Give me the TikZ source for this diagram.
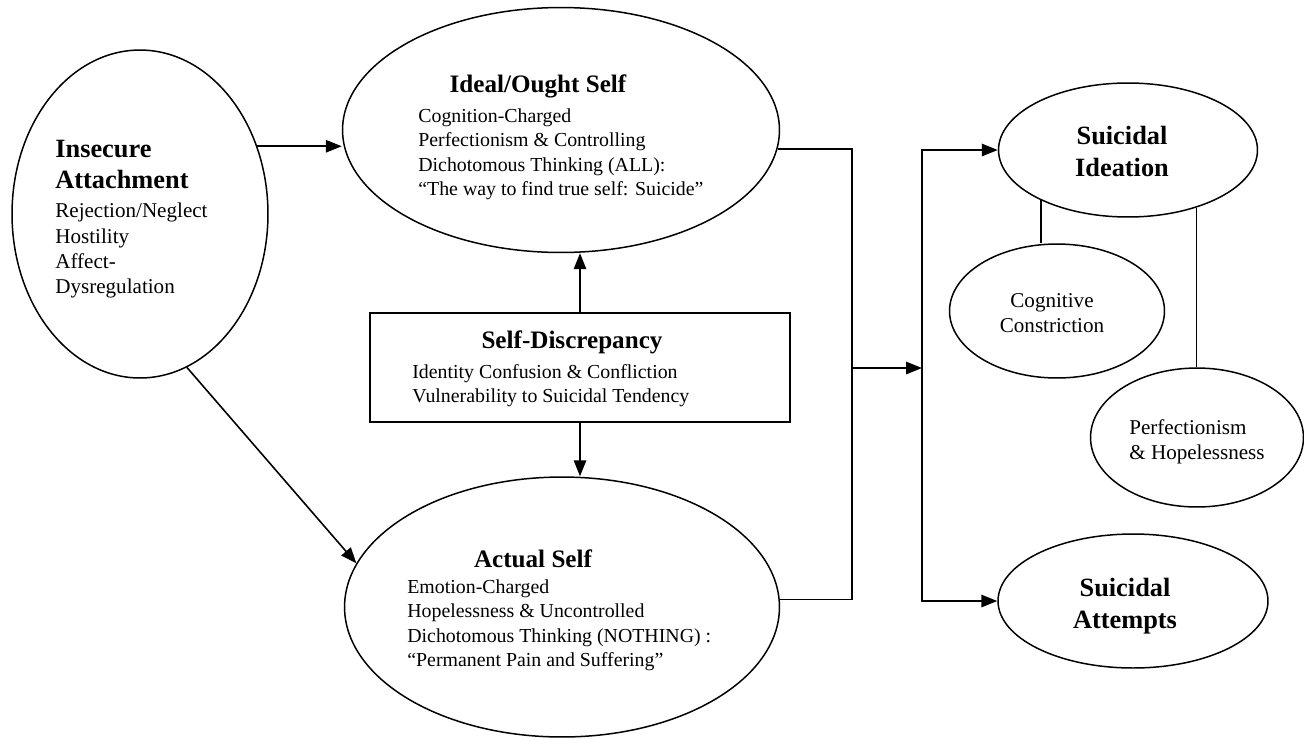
\documentclass[tikz,border=0pt]{standalone}
\usepackage{fontspec}
\setmainfont{Liberation Serif}
\usetikzlibrary{shapes.geometric,arrows.meta}

\newcommand\headfont{\fontsize{14.3}{17.6}\selectfont\bfseries}
\newcommand\bigheadfont{\fontsize{15}{18}\selectfont\bfseries}
\newcommand\bodyfont{\fontsize{11.3}{14}\selectfont}
\newcommand\bigbodyfont{\fontsize{12}{14.4}\selectfont}

\begin{document}
\begin{tikzpicture}[x=0.02cm,y=-0.02cm,
  bubble/.style={draw,ellipse,line width=0.85pt,inner sep=0pt},
  head/.style={font=\headfont,inner sep=0pt},
  bighead/.style={font=\bigheadfont,inner sep=0pt},
  body/.style={font=\bodyfont,inner sep=0pt},
  bigbody/.style={font=\bigbodyfont,inner sep=0pt},
  link/.style={line width=0.9pt},
  arr/.style={line width=0.9pt,-{Triangle[length=9pt,width=7pt]}}]
  \useasboundingbox (0,0) rectangle (1304,738);
  % shapes
  \node[bubble,minimum width=5.12cm,minimum height=6.56cm] (insecure) at (140,214) {};
  \node[bubble,minimum width=8.74cm,minimum height=4.9cm] (ideal) at (561,130) {};
  \node[bubble,minimum width=8.7cm,minimum height=5.2cm] (actual) at (562,607) {};
  \node[draw,line width=0.85pt,minimum width=8.4cm,minimum height=2.18cm] (sd) at (580,367.5) {};
  \node[bubble,minimum width=5.18cm,minimum height=2.68cm] (ideation) at (1128,150) {};
  \node[bubble,minimum width=4.3cm,minimum height=2.68cm] (cognitive) at (1057,311) {};
  \node[bubble,minimum width=4.26cm,minimum height=2.78cm] (perfect) at (1197,437.5) {};
  \node[bubble,minimum width=5.4cm,minimum height=2.68cm] (attempts) at (1133,601) {};
  % texts
  \node[bighead,anchor=north west,align=left] (insecurehead) at (55,139.5) {Insecure\\Attachment};
  \node[bigbody,anchor=north west,align=left] (insecurebody) at (55,203) {Rejection/Neglect\\Hostility\\Affect-\\Dysregulation};
  \node[head,anchor=base] (idealhead) at (538,92) {Ideal/Ought Self};
  \node[body,anchor=north west,align=left] (idealbody) at (418,108) {Cognition-Charged\\Perfectionism \& Controlling\\Dichotomous Thinking (ALL):\\“The way to find true self: Suicide”};
  \node[head,anchor=base] (sdhead) at (572,348) {Self-Discrepancy};
  \node[body,anchor=north west,align=left] (sdbody) at (412,364) {Identity Confusion \& Confliction\\Vulnerability to Suicidal Tendency};
  \node[head,anchor=base] (actualhead) at (533,567) {Actual Self};
  \node[body,anchor=north west,align=left] (actualbody) at (407,579) {Emotion-Charged\\Hopelessness \& Uncontrolled\\Dichotomous Thinking (NOTHING) :\\“Permanent Pain and Suffering”};
  \node[bighead,anchor=north,align=center] (ideationhead) at (1122,126) {Suicidal\\Ideation};
  \node[bigbody,anchor=north,align=center] (cognitivebody) at (1052,293) {Cognitive\\Constriction};
  \node[bigbody,anchor=north west,align=left] (perfectbody) at (1129,419) {Perfectionism\\\& Hopelessness};
  \node[bighead,anchor=north,align=center] (attemptshead) at (1125,578) {Suicidal\\Attempts};
  % connectors
  \coordinate (merge) at (852,368);
  \coordinate (split) at (922,368);
  \draw[arr] (insecure.30) -- (ideal.west |- insecure.30);
  \draw[arr] (insecure.-73) -- (actual.168);
  \draw[arr] (sd.north) -- (sd.north |- ideal.south);
  \draw[arr] (sd.south) -- (sd.south |- actual.north);
  \draw[link] (ideal.-5) -| (merge) (actual.2) -| (merge);
  \draw[arr] (merge) -- (split);
  \draw[arr] (split) |- (ideation.west);
  \draw[arr] (split) |- (attempts.west);
  \draw[link] (ideation.210) -- (ideation.210 |- cognitive.north);
  \draw[link] (ideation.-40) -- (ideation.-40 |- perfect.north);
\end{tikzpicture}
\end{document}
